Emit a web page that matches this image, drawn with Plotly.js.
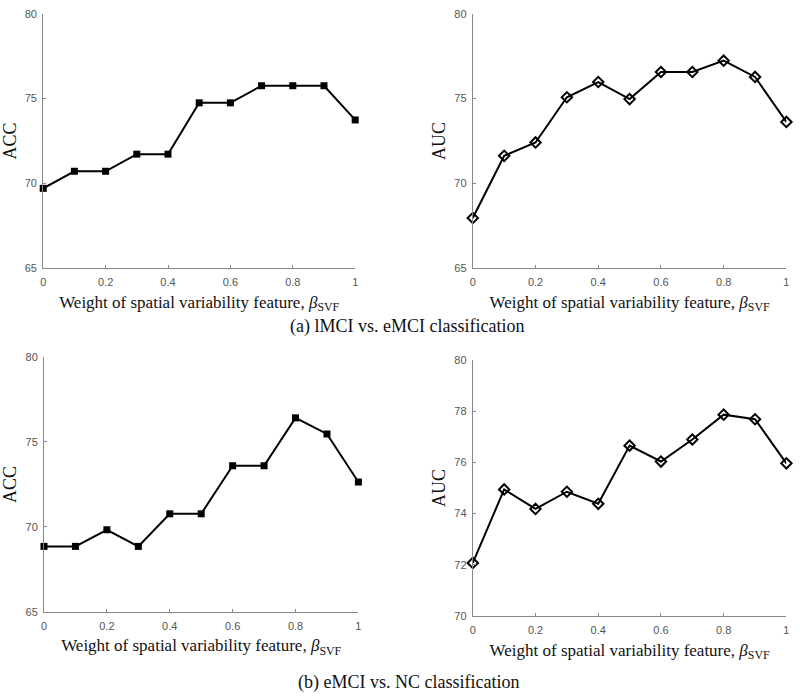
<!DOCTYPE html>
<html>
<head>
<meta charset="utf-8">
<script src="https://cdn.plot.ly/plotly-3.0.1.min.js"></script>
<style>
  html, body { margin: 0; padding: 0; background: #fff; }
  #fig { width: 800px; height: 696px; }
</style>
</head>
<body>
<div id="fig"></div>
<script>
// weight of the spatial variability feature
var beta = [0, 0.1, 0.2, 0.3, 0.4, 0.5, 0.6, 0.7, 0.8, 0.9, 1];

// (a) lMCI vs. eMCI
var accA = [69.70, 70.71, 70.71, 71.72, 71.72, 74.75, 74.75, 75.76, 75.76, 75.76, 73.74];
var aucA = [67.95, 71.62, 72.41, 75.08, 75.98, 74.97, 76.57, 76.57, 77.24, 76.28, 73.62];

// (b) eMCI vs. NC
var accB = [68.85, 68.85, 69.83, 68.85, 70.77, 70.77, 73.60, 73.60, 76.42, 75.47, 72.64];
var aucB = [72.07, 74.94, 74.18, 74.85, 74.38, 76.65, 76.03, 76.89, 77.86, 77.68, 75.96];

var xTicks = [0, 0.2, 0.4, 0.6, 0.8, 1];
var xTickText = ['0', '0.2', '0.4', '0.6', '0.8', '1'];

var xTitle = 'Weight of spatial variability feature, <i>\u03b2</i><sub>SVF</sub>';
var serif = 'Liberation Serif';
var sans = 'Liberation Sans';

function sqTrace(y, xa, ya) {
  return {
    x: beta, y: y, xaxis: xa, yaxis: ya,
    mode: 'lines+markers', cliponaxis: false,
    line: {color: '#000', width: 2},
    marker: {symbol: 'square', size: 7, color: '#000'},
    showlegend: false
  };
}
function diaTrace(y, xa, ya) {
  return {
    x: beta, y: y, xaxis: xa, yaxis: ya,
    mode: 'lines+markers', cliponaxis: false,
    line: {color: '#000', width: 2},
    marker: {symbol: 'diamond-open', size: 8, color: '#000', line: {width: 2}},
    showlegend: false
  };
}

function xax(dom, anchor) {
  return {
    domain: dom, anchor: anchor, range: [0, 1],
    tickvals: xTicks, ticktext: xTickText,
    ticks: 'inside', ticklen: 3, tickcolor: '#888',
    showline: true, linecolor: '#888', linewidth: 1,
    showgrid: false, zeroline: false, ticklabelstandoff: 4,
    tickfont: {family: sans, size: 11, color: '#555'},
    title: {text: xTitle, font: {family: serif, size: 17, color: '#111'}, standoff: 8}
  };
}
function yax(dom, anchor, rng, dt, label) {
  return {
    domain: dom, anchor: anchor, range: rng, dtick: dt,
    ticks: 'inside', ticklen: 3, tickcolor: '#888',
    showline: true, linecolor: '#888', linewidth: 1,
    showgrid: false, zeroline: false, ticklabelstandoff: 3,
    tickfont: {family: sans, size: 11, color: '#555'},
    title: {text: label, font: {family: serif, size: 18, color: '#111'}, standoff: 4}
  };
}

var data = [
  sqTrace(accA, 'x', 'y'),
  diaTrace(aucA, 'x2', 'y2'),
  sqTrace(accB, 'x3', 'y3'),
  diaTrace(aucB, 'x4', 'y4')
];

var layout = {
  width: 800, height: 696,
  margin: {l: 0, r: 0, t: 0, b: 0},
  paper_bgcolor: '#fff', plot_bgcolor: '#fff',
  xaxis: xax([0.054, 0.444], 'y'),
  yaxis: yax([0.615, 0.980], 'x', [65, 80], 5, 'ACC'),
  xaxis2: xax([0.591, 0.983], 'y2'),
  yaxis2: yax([0.615, 0.980], 'x2', [65, 80], 5, 'AUC'),
  xaxis3: xax([0.055, 0.448], 'y3'),
  yaxis3: yax([0.121, 0.487], 'x3', [65, 80], 5, 'ACC'),
  xaxis4: xax([0.591, 0.983], 'y4'),
  yaxis4: yax([0.115, 0.483], 'x4', [70, 80], 2, 'AUC'),
  annotations: [
    {text: '(a) lMCI vs. eMCI classification', xref: 'paper', yref: 'paper',
     x: 0.509, y: 1 - 326 / 696, xanchor: 'center', yanchor: 'middle', showarrow: false,
     font: {family: serif, size: 18, color: '#111'}},
    {text: '(b) eMCI vs. NC classification', xref: 'paper', yref: 'paper',
     x: 0.51, y: 1 - 682 / 696, xanchor: 'center', yanchor: 'middle', showarrow: false,
     font: {family: serif, size: 18, color: '#111'}}
  ]
};

Plotly.newPlot('fig', data, layout, {displayModeBar: false, staticPlot: true});
</script>
</body>
</html>
